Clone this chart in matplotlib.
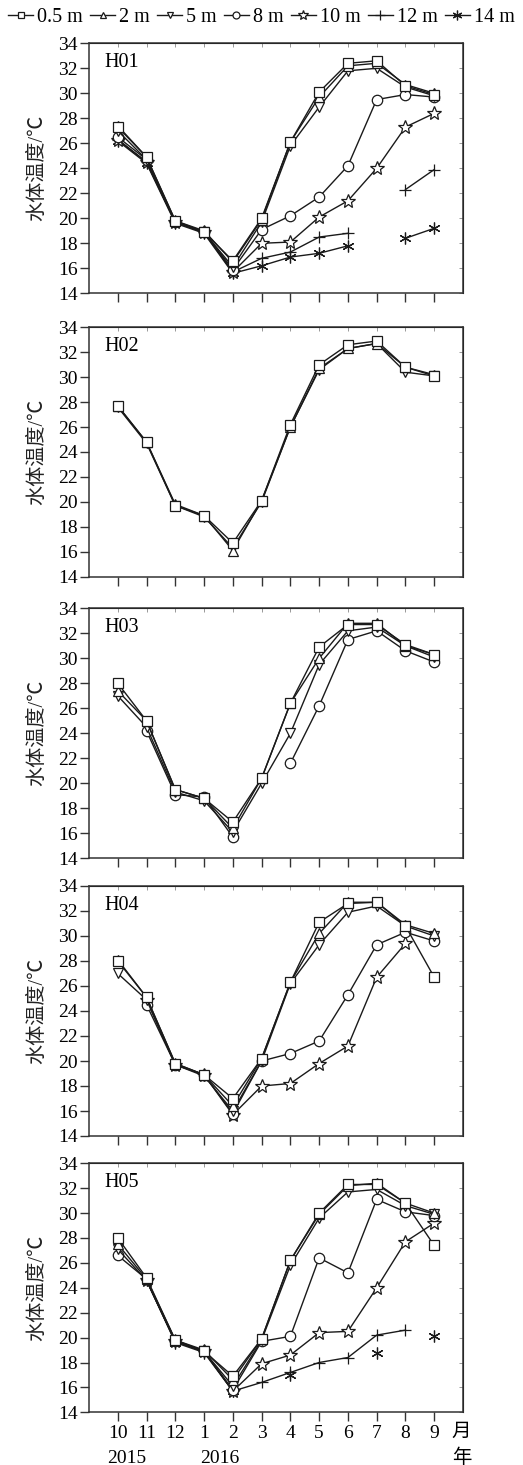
import numpy as np
import matplotlib
matplotlib.use("Agg")
import matplotlib.pyplot as plt
from matplotlib.lines import Line2D

nan = np.nan
plt.rcParams['font.family'] = ['Liberation Serif', 'Noto Sans CJK SC', 'DejaVu Sans']
plt.rcParams['mathtext.fontset'] = 'stix'

months = ["10", "11", "12", "1", "2", "3", "4", "5", "6", "7", "8", "9"]
years = ["2015", "2016"]
depths = ["0.5 m", "2 m", "5 m", "8 m", "10 m", "12 m", "14 m"]
sites = ["H01", "H02", "H03", "H04", "H05"]

# ---- H01 ----
H01_05 = [27.3, 24.9, 19.8, 18.9, 16.6, 20.0, 26.1, 30.1, 32.4, 32.6, 30.6, 29.9]
H01_2 = [27.4, 24.9, 19.8, 19.0, 16.5, 19.9, 26.1, 29.7, 32.2, 32.4, 30.7, 30.0]
H01_5 = [27.0, 24.7, 19.7, 18.9, 16.1, 19.7, 25.8, 28.9, 31.8, 32.0, 30.5, 29.8]
H01_8 = [26.5, 24.7, 19.7, 18.9, 15.9, 19.1, 20.2, 21.7, 24.2, 29.5, 29.9, 29.7]
H01_10 = [26.3, 24.5, 19.7, 18.9, 15.7, 18.0, 18.1, 20.1, 21.4, 24.0, 27.3, 28.4]
H01_12 = [26.3, 24.5, 19.7, 18.9, 15.7, 16.8, 17.3, 18.5, 18.8, nan, 22.3, 23.9]
H01_14 = [26.2, 24.4, 19.6, 18.8, 15.6, 16.2, 16.9, 17.2, 17.8, nan, 18.4, 19.2]

# ---- H02 ----
H02_05 = [27.7, 24.8, 19.7, 18.9, 16.7, 20.1, 26.2, 31.0, 32.6, 32.9, 30.8, 30.1]
H02_2 = [27.7, 24.8, 19.8, 18.9, 16.1, 20.1, 26.0, 30.7, 32.3, 32.7, 30.8, 30.2]
H02_5 = [27.6, 24.7, 19.7, 18.8, 16.3, 20.0, 26.0, 30.6, 32.3, 32.7, 30.4, 30.1]
H02_8 = [nan] * 12
H02_10 = [nan] * 12
H02_12 = [nan] * 12
H02_14 = [nan] * 12

# ---- H03 ----
H03_05 = [28.0, 25.0, 19.5, 18.8, 16.9, 20.4, 26.4, 30.9, 32.7, 32.7, 31.1, 30.3]
H03_2 = [27.4, 25.0, 19.5, 18.8, 16.4, 20.4, 26.4, 30.0, 32.8, 32.8, 31.0, 30.3]
H03_5 = [27.0, 24.5, 19.3, 18.6, 16.1, 20.0, 24.0, 29.5, 32.2, 32.5, 31.0, 30.1]
H03_8 = [nan, 24.2, 19.1, 18.9, 15.7, nan, 21.6, 26.2, 31.5, 32.2, 30.6, 29.7]
H03_10 = [nan] * 12
H03_12 = [nan] * 12
H03_14 = [nan] * 12

# ---- H04 ----
H04_05 = [28.0, 25.1, 19.8, 18.9, 17.0, 20.2, 26.3, 31.1, 32.6, 32.7, 30.8, 26.7]
H04_2 = [28.1, 25.1, 19.8, 18.9, 16.4, 20.2, 26.3, 30.2, 32.7, 32.7, 30.9, 30.2]
H04_5 = [27.0, 24.9, 19.7, 18.8, 16.0, 20.0, 26.2, 29.3, 31.9, 32.4, 30.8, 30.0]
H04_8 = [nan, 24.5, 19.7, 18.9, 15.8, 20.0, 20.6, 21.6, 25.3, 29.3, 30.3, 29.6]
H04_10 = [nan, 24.9, 19.7, 18.9, 15.7, 18.0, 18.2, 19.8, 21.2, 26.7, 29.4, nan]
H04_12 = [nan] * 12
H04_14 = [nan] * 12

# ---- H05 ----
H05_05 = [28.0, 24.8, 19.8, 18.9, 16.9, 19.9, 26.2, 30.0, 32.3, 32.3, 30.8, 27.4]
H05_2 = [27.5, 24.7, 19.8, 19.0, 16.6, 19.9, 26.2, 29.9, 32.2, 32.4, 30.8, 30.0]
H05_5 = [27.1, 24.6, 19.7, 18.9, 16.1, 19.8, 25.8, 29.6, 31.7, 31.9, 30.6, 29.9]
H05_8 = [26.6, 24.7, 19.7, 18.9, 15.8, 19.7, 20.1, 26.4, 25.2, 31.1, 30.1, 29.8]
H05_10 = [nan, 24.6, 19.7, 18.9, 15.7, 17.9, 18.6, 20.4, 20.5, 24.0, 27.7, 29.2]
H05_12 = [nan, 24.6, 19.7, 18.9, 15.7, 16.4, 17.2, 18.0, 18.4, 20.2, 20.6, nan]
H05_14 = [nan, 24.6, 19.6, 18.8, 15.7, nan, 17.0, nan, nan, 18.8, nan, 20.1]

site_data = {
    "H01": [H01_05, H01_2, H01_5, H01_8, H01_10, H01_12, H01_14],
    "H02": [H02_05, H02_2, H02_5, H02_8, H02_10, H02_12, H02_14],
    "H03": [H03_05, H03_2, H03_5, H03_8, H03_10, H03_12, H03_14],
    "H04": [H04_05, H04_2, H04_5, H04_8, H04_10, H04_12, H04_14],
    "H05": [H05_05, H05_2, H05_5, H05_8, H05_10, H05_12, H05_14],
}

markers = ['s', '^', 'v', 'o', '*', '+', (6, 2, 0)]
msizes = [6.5, 7.0, 7.0, 7.5, 10.0, 8.0, 8.5]
leg_sizes = [4.5, 5.0, 5.0, 5.0, 7.5, 6.5, 7.0]

W, H = 523, 1465
fig = plt.figure(figsize=(W / 100, H / 100), dpi=100)

panel_px = [(43.3, 293.3), (327.3, 576.7), (608.3, 858.3), (886.0, 1136.0), (1163.3, 1412.3)]
left_px, right_px = 89.0, 463.0
x = np.arange(len(months))
ink = '#1a1a1a'

for i, site in enumerate(sites):
    top, bot = panel_px[i]
    ax = fig.add_axes([left_px / W, 1 - bot / H, (right_px - left_px) / W, (bot - top) / H])
    series = site_data[site]
    for k in range(len(depths) - 1, -1, -1):
        y = np.array(series[k], dtype=float)
        ax.plot(x, y, color=ink, lw=1.0, marker=markers[k], ms=msizes[k],
                mfc='white', mec=ink, mew=0.9, zorder=3 + (len(depths) - k))
    ax.set_xlim(-1, 12)
    ax.set_ylim(14, 34)
    ax.set_yticks(np.arange(14, 35, 2))
    ax.set_xticks(x)
    ax.tick_params(axis='both', direction='out', length=6.5, width=1.0, color='#333333',
                   labelsize=14, pad=1.5)
    if i == len(sites) - 1:
        ax.set_xticklabels(months)
        ax.tick_params(axis='x', pad=3)
    else:
        ax.set_xticklabels([])
    for sp in ax.spines.values():
        sp.set_color('#333333')
        sp.set_linewidth(1.1)
    sec_y = ax.secondary_yaxis('right')
    sec_y.set_yticks(np.arange(14, 35, 2))
    sec_y.tick_params(direction='in', length=3, width=0.6, color='#888888', labelright=False)
    sec_x = ax.secondary_xaxis('top')
    sec_x.set_xticks(x)
    sec_x.tick_params(direction='in', length=3, width=0.6, color='#888888', labeltop=False)
    ax.set_ylabel("水体温度/℃", fontsize=14.5, labelpad=8, color='#222222')
    ax.text(0.04, 0.96, site, transform=ax.transAxes, ha='left', va='top', fontsize=14.5)
    if i == len(sites) - 1:
        ax.text(11.93, -0.075, "月", transform=ax.get_xaxis_transform(), ha='center', va='center',
                fontsize=14, family=['Noto Sans CJK SC'])
        ax.text(11.96, -0.18, "年", transform=ax.get_xaxis_transform(), ha='center', va='center',
                fontsize=14, family=['Noto Sans CJK SC'])
        ax.text(0.32, -0.185, years[0], transform=ax.get_xaxis_transform(), ha='center', va='center',
                fontsize=14)
        ax.text(3.54, -0.185, years[1], transform=ax.get_xaxis_transform(), ha='center', va='center',
                fontsize=14)

handles = [Line2D([0], [0], color=ink, lw=1.0, marker=markers[k], ms=leg_sizes[k],
                  mfc='white', mec=ink, mew=0.9) for k in range(len(depths))]
fig.legend(handles, depths, loc='upper center', bbox_to_anchor=(0.5, 1.003), ncol=7,
           frameon=False, fontsize=14.5, handlelength=1.25, handletextpad=0.2,
           columnspacing=0.35, borderaxespad=0.2)

fig.savefig("out.png", dpi=100)
